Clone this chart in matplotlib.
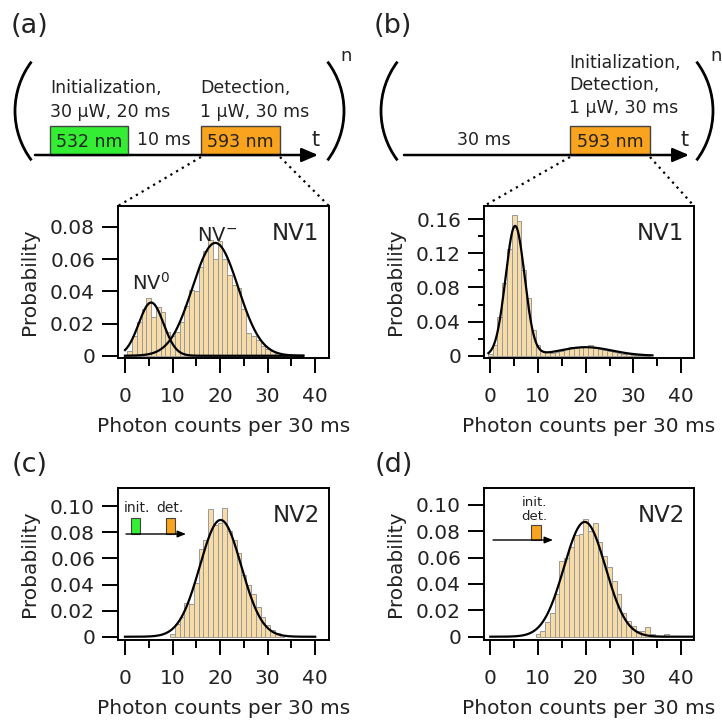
import numpy as np
import matplotlib
matplotlib.use("Agg")
import matplotlib.pyplot as plt
from matplotlib.patches import Rectangle, Arc

# photon-count histograms (bin centre = counts per 30 ms, height = probability)
counts_a = list(range(0, 38))
prob_a = [0.000, 0.003, 0.012, 0.021, 0.029, 0.036, 0.024, 0.030, 0.027, 0.015,
          0.012, 0.015, 0.021, 0.031, 0.041, 0.040, 0.055, 0.065, 0.072, 0.060,
          0.071, 0.060, 0.050, 0.044, 0.042, 0.029, 0.014, 0.012, 0.010, 0.006,
          0.004, 0.003, 0.002, 0.001, 0.001, 0.0005, 0.0005, 0.0003]

counts_b = list(range(0, 34))
prob_b = [0.002, 0.012, 0.045, 0.085, 0.125, 0.165, 0.158, 0.100, 0.068, 0.030,
          0.012, 0.006, 0.004, 0.003, 0.004, 0.006, 0.008, 0.010, 0.009, 0.010,
          0.010, 0.012, 0.009, 0.008, 0.007, 0.006, 0.004, 0.003, 0.002, 0.002,
          0.001, 0.001, 0.001, 0.0005]

counts_c = list(range(10, 34))
prob_c = [0.002, 0.010, 0.015, 0.026, 0.025, 0.041, 0.067, 0.074, 0.098, 0.086,
          0.087, 0.099, 0.081, 0.074, 0.064, 0.047, 0.040, 0.033, 0.023, 0.015,
          0.009, 0.005, 0.0025, 0.001]

counts_d = list(range(10, 38))
prob_d = [0.002, 0.004, 0.011, 0.018, 0.032, 0.057, 0.060, 0.068, 0.077, 0.078,
          0.089, 0.080, 0.086, 0.072, 0.061, 0.053, 0.042, 0.032, 0.018, 0.012,
          0.008, 0.004, 0.004, 0.0075, 0.002, 0.0, 0.0, 0.002]

# gaussian fit parameters (amplitude, centre, sigma)
fit_a = [(0.033, 5.5, 2.6), (0.070, 19.0, 4.8)]   # NV0 and NV- drawn separately
fit_b = [(0.152, 5.2, 2.0), (0.010, 20.0, 5.5)]   # drawn as one sum
fit_c = [(0.0895, 20.1, 4.35)]
fit_d = [(0.087, 19.8, 4.35)]

W, H = 722, 723
fig = plt.figure(figsize=(W / 100, H / 100), dpi=100)
plt.rcParams["font.family"] = "DejaVu Sans"
TXT = "#222222"
BAR_FC = "#F8DCA8"
BAR_EC = "#999999"
FS = 14.5


def px_axes(left, top, right, bottom):
    return fig.add_axes([left / W, 1 - bottom / H, (right - left) / W, (bottom - top) / H])


def gauss(x, p):
    a, m, s = p
    return a * np.exp(-(x - m) ** 2 / (2 * s ** 2))


def hist_panel(ax, counts, probs, fits, xr, summed, xlim, ylim, yticks, ylabels, yminor, tag):
    ax.bar(counts, probs, width=1.0, color=BAR_FC, edgecolor=BAR_EC, linewidth=0.7, zorder=1)
    x = np.linspace(xr[0], xr[1], 600)
    if summed:
        ax.plot(x, sum(gauss(x, p) for p in fits), color="k", lw=1.6, zorder=3)
    else:
        for p in fits:
            ax.plot(x, gauss(x, p), color="k", lw=1.6, zorder=3)
    ax.set_xlim(*xlim)
    ax.set_ylim(*ylim)
    ax.set_xticks([0, 10, 20, 30, 40])
    ax.set_xticks([5, 15, 25, 35], minor=True)
    ax.set_yticks(yticks)
    ax.set_yticklabels(ylabels)
    if yminor:
        ax.set_yticks(yminor, minor=True)
    ax.tick_params(axis="x", which="major", direction="out", length=11, width=1.4,
                   pad=10, labelsize=FS, labelcolor=TXT)
    ax.tick_params(axis="x", which="minor", direction="out", length=6, width=1.4)
    ax.tick_params(axis="y", which="major", direction="out", length=11.5, width=1.4,
                   pad=5, labelsize=FS, labelcolor=TXT)
    ax.tick_params(axis="y", which="minor", direction="out", length=4.5, width=1.4)
    for s in ax.spines.values():
        s.set_linewidth(1.4)
    ax.set_xlabel("Photon counts per 30 ms", fontsize=FS, color=TXT, labelpad=8)
    ax.set_ylabel("Probability", fontsize=FS, color=TXT, labelpad=8)
    ax.text(0.955, 0.895, tag, transform=ax.transAxes, ha="right", va="top",
            fontsize=16.5, color=TXT)


yt_small = [0, 0.02, 0.04, 0.06, 0.08]
yt_c = [0, 0.02, 0.04, 0.06, 0.08, 0.10]
yl_c = ["0", "0.02", "0.04", "0.06", "0.08", "0.10"]

ax_a = px_axes(118, 206, 329, 358)
hist_panel(ax_a, counts_a, prob_a, fit_a, (0, 37.5), False, (-1.47, 42.9), (-0.0014, 0.0929),
           yt_small, ["0", "0.02", "0.04", "0.06", "0.08"], None, "NV1")
ax_a.text(5.5, 0.0455, "NV$^0$", ha="center", va="center", fontsize=14, color=TXT)
ax_a.text(19.3, 0.0745, "NV$^{-}$", ha="center", va="center", fontsize=14, color=TXT)

ax_b = px_axes(484, 206, 694, 358)
hist_panel(ax_b, counts_b, prob_b, fit_b, (-0.4, 34), True, (-1.32, 42.7), (-0.0027, 0.1756),
           [0, 0.04, 0.08, 0.12, 0.16], ["0", "0.04", "0.08", "0.12", "0.16"],
           [0.02, 0.06, 0.10, 0.14], "NV1")

ax_c = px_axes(118, 488, 329, 640)
hist_panel(ax_c, counts_c, prob_c, fit_c, (0, 40), True, (-1.47, 42.9), (-0.0025, 0.114),
           yt_c, yl_c, None, "NV2")

ax_d = px_axes(484, 488, 694, 640)
hist_panel(ax_d, counts_d, prob_d, fit_d, (0, 42.7), True, (-1.32, 42.7), (-0.0025, 0.1127),
           yt_c, yl_c, None, "NV2")

# overlay in pixel coordinates for the pulse-sequence sketches
ov = fig.add_axes([0, 0, 1, 1])
ov.set_xlim(0, W)
ov.set_ylim(H, 0)
ov.axis("off")

GREEN = "#33EE33"
ORANGE = "#F9A31E"

for lbl, x, y in [("(a)", 11, 26), ("(b)", 374, 26), ("(c)", 12, 465), ("(d)", 375, 465)]:
    ov.text(x, y, lbl, fontsize=19.5, color=TXT, ha="left", va="center")

# big brackets with exponent n
for cx, side in [(15, "l"), (344, "r"), (381, "l"), (713, "r")]:
    r = 82
    if side == "l":
        ov.add_patch(Arc((cx + r, 111), 2 * r, 2 * r, theta1=180 - 37, theta2=180 + 37, lw=2, color="k"))
    else:
        ov.add_patch(Arc((cx - r, 111), 2 * r, 2 * r, theta1=-37, theta2=37, lw=2, color="k"))
ov.text(346, 56, "n", fontsize=13, color=TXT, ha="center", va="center")
ov.text(716, 56, "n", fontsize=13, color=TXT, ha="center", va="center")

arrow = dict(arrowstyle="-|>,head_length=0.7,head_width=0.3", color="k", lw=1.8,
             shrinkA=0, shrinkB=0, mutation_scale=14)

# (a) sequence
ov.annotate("", xy=(318, 155), xytext=(35, 155), arrowprops=arrow)
ov.add_patch(Rectangle((50, 126), 78, 29, facecolor=GREEN, edgecolor="#444444", lw=1))
ov.add_patch(Rectangle((201, 126), 79, 29, facecolor=ORANGE, edgecolor="#444444", lw=1))
ov.text(89, 142, "532 nm", fontsize=12.5, color=TXT, ha="center", va="center")
ov.text(240.5, 142, "593 nm", fontsize=12.5, color=TXT, ha="center", va="center")
ov.text(164, 140, "10 ms", fontsize=12.5, color=TXT, ha="center", va="center")
ov.text(316, 140, "t", fontsize=15, color=TXT, ha="center", va="center")
ov.text(50, 88, "Initialization,", fontsize=12.5, color=TXT, ha="left", va="center")
ov.text(50, 112, "30 µW, 20 ms", fontsize=12.5, color=TXT, ha="left", va="center")
ov.text(200, 88, "Detection,", fontsize=12.5, color=TXT, ha="left", va="center")
ov.text(200, 112, "1 µW, 30 ms", fontsize=12.5, color=TXT, ha="left", va="center")
ov.plot([201, 118], [157, 206], ls=(0, (1, 2)), color="k", lw=1.6)
ov.plot([280, 329], [157, 206], ls=(0, (1, 2)), color="k", lw=1.6)

# (b) sequence
ov.annotate("", xy=(689, 155), xytext=(404, 155), arrowprops=arrow)
ov.add_patch(Rectangle((570, 126), 80, 29, facecolor=ORANGE, edgecolor="#444444", lw=1))
ov.text(610, 142, "593 nm", fontsize=12.5, color=TXT, ha="center", va="center")
ov.text(484, 140, "30 ms", fontsize=12.5, color=TXT, ha="center", va="center")
ov.text(685, 140, "t", fontsize=15, color=TXT, ha="center", va="center")
ov.text(569, 63, "Initialization,", fontsize=12.5, color=TXT, ha="left", va="center")
ov.text(569, 85, "Detection,", fontsize=12.5, color=TXT, ha="left", va="center")
ov.text(569, 108, "1 µW, 30 ms", fontsize=12.5, color=TXT, ha="left", va="center")
ov.plot([570, 484], [157, 206], ls=(0, (1, 2)), color="k", lw=1.6)
ov.plot([650, 694], [157, 206], ls=(0, (1, 2)), color="k", lw=1.6)

# small insets in (c) and (d)
small = dict(arrowstyle="-|>,head_length=0.5,head_width=0.2", color="k", lw=1.0,
             shrinkA=0, shrinkB=0, mutation_scale=10)
ov.annotate("", xy=(186, 534), xytext=(126, 534), arrowprops=small)
ov.add_patch(Rectangle((131, 518), 9, 16, facecolor=GREEN, edgecolor="#444444", lw=0.8))
ov.add_patch(Rectangle((166, 518), 9, 16, facecolor=ORANGE, edgecolor="#444444", lw=0.8))
ov.text(137, 508, "init.", fontsize=10, color=TXT, ha="center", va="center")
ov.text(170, 508, "det.", fontsize=10, color=TXT, ha="center", va="center")

ov.annotate("", xy=(553, 540), xytext=(493, 540), arrowprops=small)
ov.add_patch(Rectangle((531, 525), 10, 15, facecolor=ORANGE, edgecolor="#444444", lw=0.8))
ov.text(534, 503, "init.", fontsize=9.5, color=TXT, ha="center", va="center")
ov.text(534, 516, "det.", fontsize=9.5, color=TXT, ha="center", va="center")

fig.savefig("out.png", dpi=100)
